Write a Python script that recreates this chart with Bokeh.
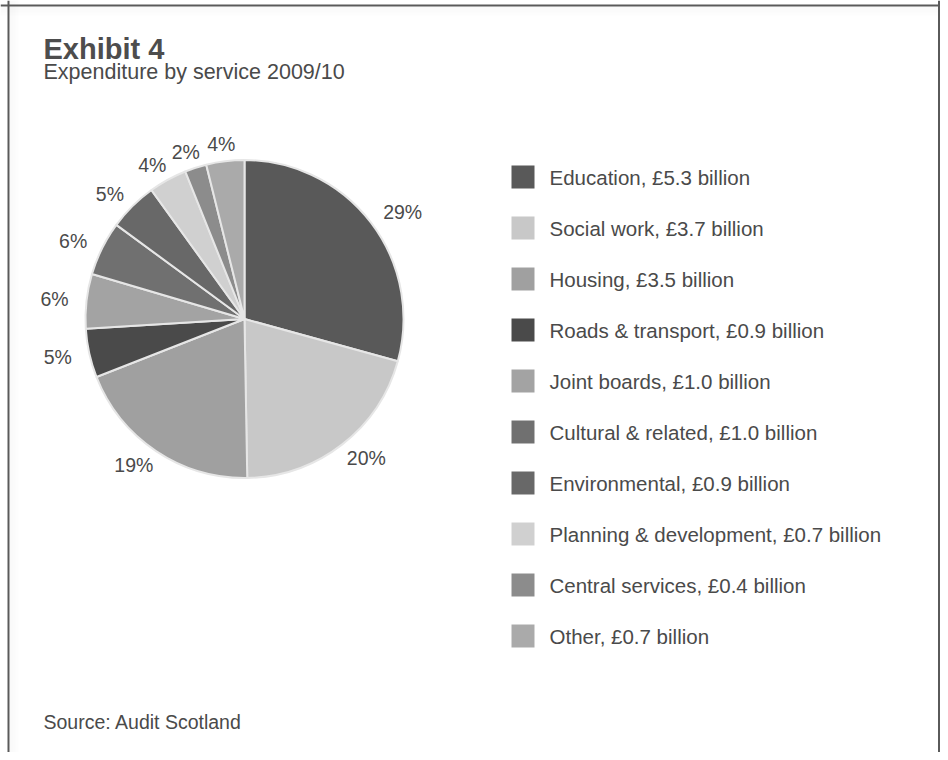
import math
from bokeh.plotting import figure
from bokeh.models import Range1d, Span, ColumnDataSource
from bokeh.core.properties import value
from bokeh.embed import file_html
from bokeh.resources import INLINE

# ---- data ----
services = ["Education", "Social work", "Housing", "Roads & transport", "Joint boards",
            "Cultural & related", "Environmental", "Planning & development",
            "Central services", "Other"]
billions = [5.3, 3.7, 3.5, 0.9, 1.0, 1.0, 0.9, 0.7, 0.4, 0.7]
colors = ["#595959", "#c8c8c8", "#a0a0a0", "#4a4a4a", "#a3a3a3",
          "#707070", "#686868", "#d0d0d0", "#8c8c8c", "#aaaaaa"]
title = "Exhibit 4"
subtitle = "Expenditure by service 2009/10"
source_note = "Source: Audit Scotland"

# ---- layout ----
W, H = 940, 752
FONT = "Liberation Sans"
TXT = "#4a4a4a"

def fy(y_px):
    return H - y_px

p = figure(width=W, height=H, x_range=Range1d(0, W), y_range=Range1d(0, H),
           output_backend="svg", toolbar_location=None, min_border=0)
p.axis.visible = False
p.grid.visible = False
p.outline_line_color = None
p.background_fill_color = "white"
p.border_fill_color = "white"

# soft inner shadow along the top and left of the frame
for i in range(10):
    a = 0.05 * (1 - i / 10)
    p.add_layout(Span(location=10 + i, dimension="height", line_color="#808080",
                      line_alpha=a, line_width=1))
    p.add_layout(Span(location=fy(7 + i), dimension="width", line_color="#808080",
                      line_alpha=a, line_width=1))

# frame
p.add_layout(Span(location=8, dimension="height", line_color="#5a5a5a", line_width=2))
p.add_layout(Span(location=W - 1.5, dimension="height", line_color="#5a5a5a", line_width=2))
p.add_layout(Span(location=fy(5), dimension="width", line_color="#5a5a5a", line_width=2))

# pie
total = sum(billions)
cx, cy, r = 244, fy(318.5), 159
starts, ends, mids, pcts = [], [], [], []
cum = 0.0
for v in billions:
    c0 = cum / total
    cum += v
    c1 = cum / total
    starts.append(math.pi / 2 - 2 * math.pi * c1)
    ends.append(math.pi / 2 - 2 * math.pi * c0)
    mids.append(2 * math.pi * (c0 + c1) / 2)
    pcts.append(f"{round(100 * v / total)}%")

src = ColumnDataSource(dict(start=starts, end=ends, color=colors))
p.wedge(x=cx, y=cy, radius=r, start_angle="start", end_angle="end",
        direction="anticlock", fill_color="color", line_color="#e6e6e6",
        line_width=2, source=src)

R_lab = 176
lx = [cx + math.sin(t) * (R_lab + 0.4 * 19 * len(s)) for t, s in zip(mids, pcts)]
ly = [cy + math.cos(t) * R_lab for t in mids]
p.text(x=lx, y=ly, text=pcts, text_align="center", text_baseline="middle",
       text_font=value(FONT), text_font_size="19.5px", text_color=TXT)

# legend
lg_x, lg_y0, lg_step, sw = 522.5, fy(176.5), 51, 23
ys = [lg_y0 - i * lg_step for i in range(len(services))]
labels = [f"{s}, £{b:.1f} billion" for s, b in zip(services, billions)]
p.rect(x=[lg_x] * len(ys), y=ys, width=sw, height=sw, fill_color=colors, line_color=None)
p.text(x=[549] * len(ys), y=ys, text=labels, text_align="left", text_baseline="middle",
       text_font=value(FONT), text_font_size="20.5px", text_color=TXT)

# titles
p.text(x=[43], y=[fy(48)], text=[title], text_font=value(FONT), text_font_size="29px",
       text_font_style="bold", text_color="#4d4d4d", text_baseline="alphabetic")
p.text(x=[43], y=[fy(71)], text=[subtitle], text_font=value(FONT), text_font_size="21.5px",
       text_color=TXT, text_baseline="alphabetic")
p.text(x=[43], y=[fy(721)], text=[source_note], text_font=value(FONT),
       text_font_size="19.5px", text_color=TXT, text_baseline="alphabetic")

open("out.html", "w").write(file_html(p, INLINE))
